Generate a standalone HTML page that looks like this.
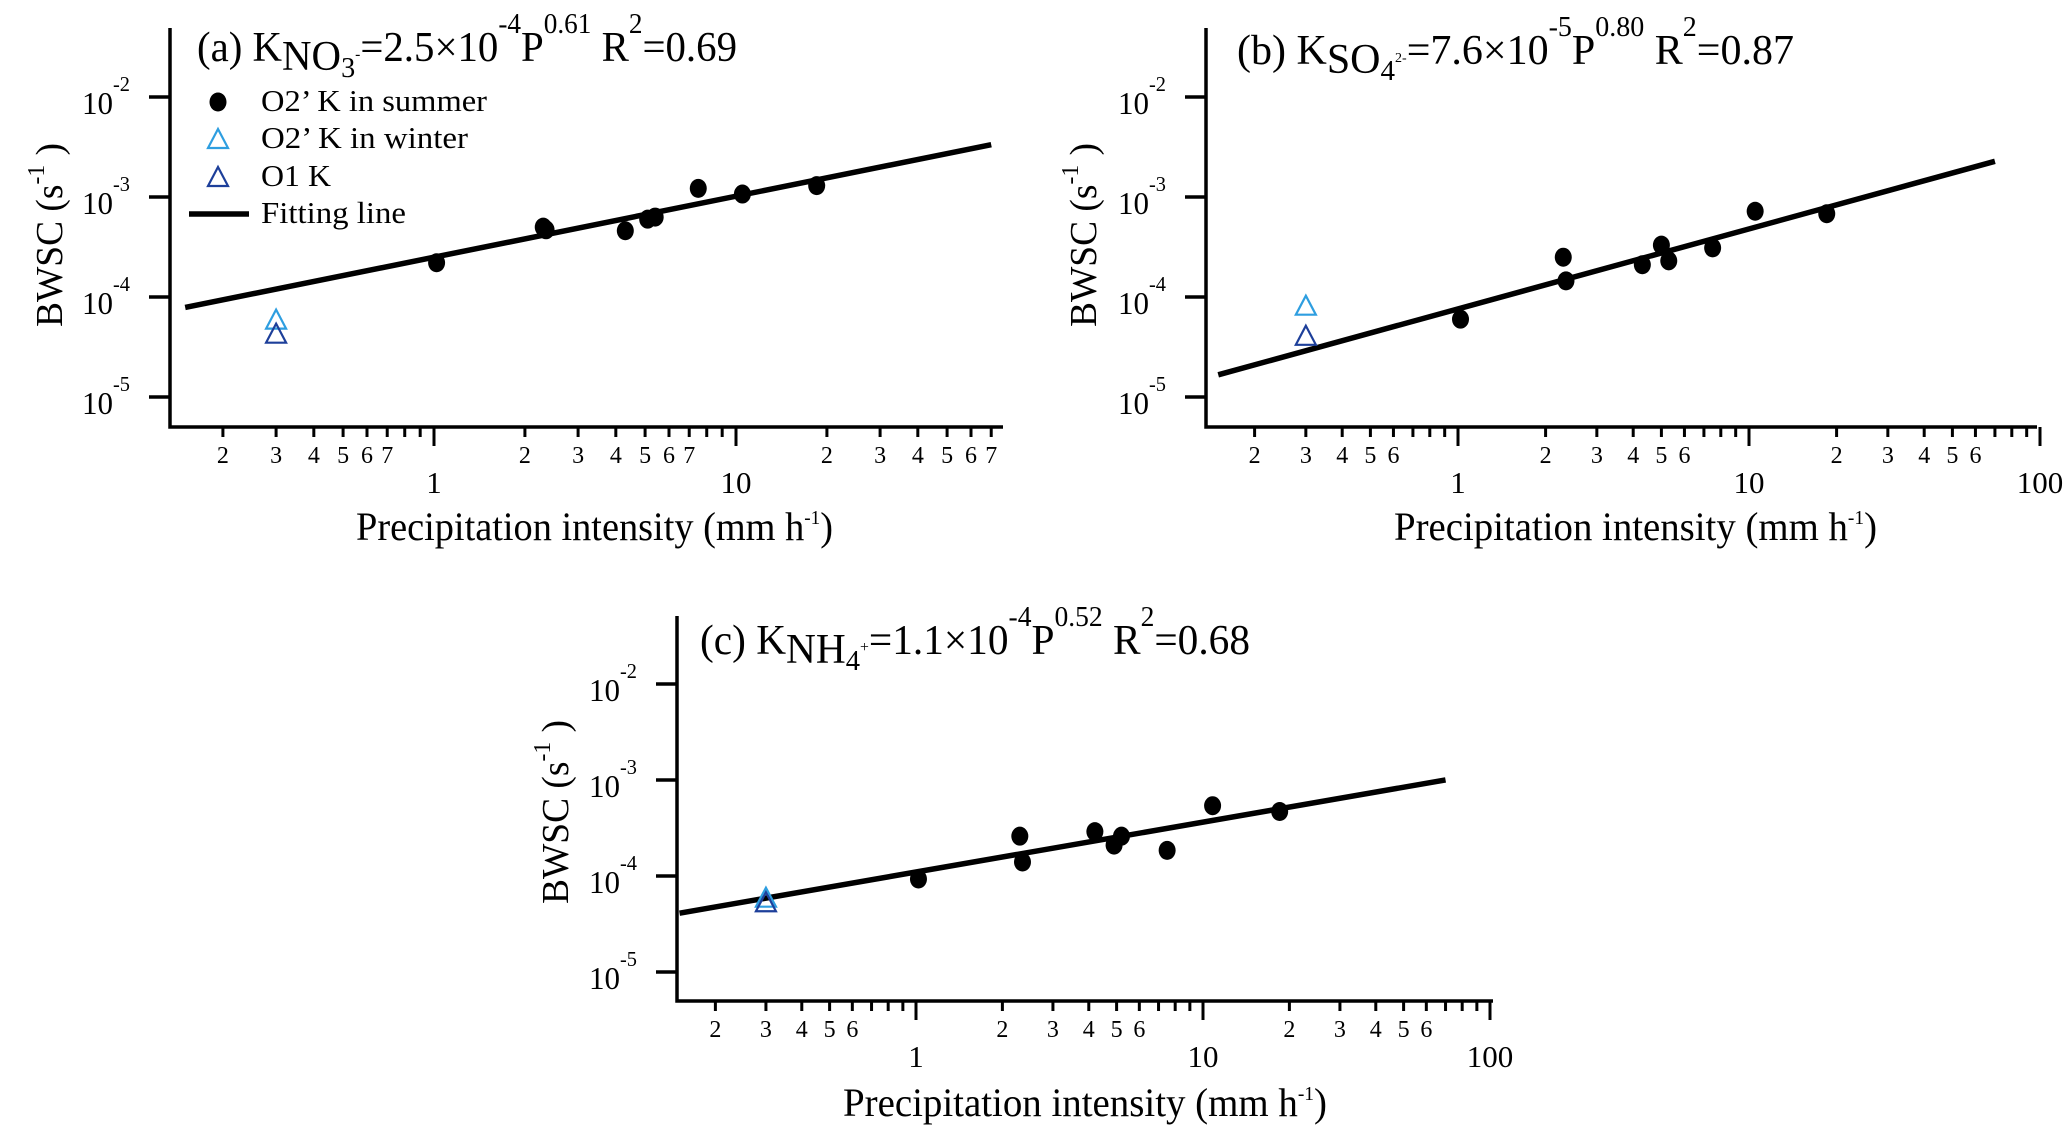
<!DOCTYPE html>
<html><head><meta charset="utf-8"><style>
html,body{margin:0;padding:0;background:#fff;}
svg{display:block;font-family:"Liberation Serif",serif;}
</style></head><body>
<svg id="fig" width="2067" height="1137" viewBox="0 0 2067 1137" xmlns="http://www.w3.org/2000/svg"></svg>
<script>
// ---- data ----
const aSummerP = [1.02, 2.3, 2.35, 4.3, 5.1, 5.4, 7.5, 10.5, 18.5];
const aSummerK = [2.2e-4, 5.0e-4, 4.7e-4, 4.6e-4, 6.0e-4, 6.3e-4, 1.22e-3, 1.07e-3, 1.3e-3];
const aWinterP = [0.3], aWinterK = [5.8e-5];
const aO1P = [0.3], aO1K = [4.2e-5];
const aFit = [2.5e-4, 0.61];

const bSummerP = [1.02, 2.3, 2.35, 4.3, 5.0, 5.3, 7.5, 10.5, 18.5];
const bSummerK = [6.0e-5, 2.5e-4, 1.45e-4, 2.1e-4, 3.3e-4, 2.3e-4, 3.1e-4, 7.2e-4, 6.8e-4];
const bWinterP = [0.3], bWinterK = [8.0e-5];
const bO1P = [0.3], bO1K = [4.0e-5];
const bFit = [7.6e-5, 0.80];

const cSummerP = [1.02, 2.3, 2.35, 4.2, 4.9, 5.2, 7.5, 10.8, 18.5];
const cSummerK = [9.3e-5, 2.6e-4, 1.4e-4, 2.9e-4, 2.1e-4, 2.6e-4, 1.85e-4, 5.4e-4, 4.7e-4];
const cWinterP = [0.3], cWinterK = [5.8e-5];
const cO1P = [0.3], cO1K = [5.2e-5];
const cFit = [1.1e-4, 0.52];

const fitRange = [0.15, 70];
const yTickExps = [-2, -3, -4, -5];
const minorLabelsA = ['2','3','4','5','6','7'];
const minorLabelsBC = ['2','3','4','5','6'];

const NS = 'http://www.w3.org/2000/svg';
const svg = document.getElementById('fig');
function mk(tag, attrs, parent){ const e=document.createElementNS(NS,tag); for(const k in attrs) e.setAttribute(k,attrs[k]); (parent||svg).appendChild(e); return e; }

function panel(cfg){
  const g = mk('g',{});
  
  
  const X = p => cfg.x1 + (cfg.x10-cfg.x1)*Math.log10(p);
  const Y = k => cfg.y3 + (cfg.y4-cfg.y3)*(-3-Math.log10(k));
  const ax = mk('path',{d:`M${cfg.ax} ${cfg.top} L${cfg.ax} ${cfg.bot} L${cfg.axR} ${cfg.bot}`,fill:'none',stroke:'#000','stroke-width':3.5},g);
  
  
  yTickExps.forEach(e=>{
    const y = Y(Math.pow(10,e));
    mk('line',{x1:cfg.ax-21,x2:cfg.ax,y1:y,y2:y,stroke:'#000','stroke-width':3.5},g);
    const t = mk('text',{x:cfg.ax-88,y:y+17,'font-size':32,textLength:48,lengthAdjust:'spacingAndGlyphs'},g);
    
    
    t.innerHTML = `10<tspan dy="-23" font-size="21">${e}</tspan>`;
  });
  for(let d=-1; d<=1; d++){
    for(let m=1; m<=9; m++){
      const p = m*Math.pow(10,d);
      const x = X(p);
      if(x < cfg.ax+5 || x > cfg.axR+1) continue;
      const major = (m===1);
      mk('line',{x1:x,x2:x,y1:cfg.bot,y2:cfg.bot+(major?19:10),stroke:'#000','stroke-width':3},g);
      const labs = cfg.minor;
      if(!major && m-2 < labs.length){
        const t = mk('text',{x:x,y:cfg.bot+36,'font-size':24,'text-anchor':'middle'},g);
        
        
        t.textContent = labs[m-2];
      }
      if(major && d>=0){
        const t = mk('text',{x:x,y:cfg.bot+66,'font-size':31,'text-anchor':'middle'},g);
        
        
        t.textContent = p;
      }
    }
  }
  if(cfg.show100){
    const x = X(100);
    mk('line',{x1:x,x2:x,y1:cfg.bot,y2:cfg.bot+19,stroke:'#000','stroke-width':3},g);
    const t = mk('text',{x:x,y:cfg.bot+66,'font-size':31,'text-anchor':'middle'},g);
    
    
    t.textContent = '100';
  }
  const fl = mk('line',{x1:X(fitRange[0]),y1:Y(cfg.fit[0]*Math.pow(fitRange[0],cfg.fit[1])),x2:X(fitRange[1]),y2:Y(cfg.fit[0]*Math.pow(fitRange[1],cfg.fit[1])),stroke:'#000','stroke-width':5.5},g);
  
  
  cfg.sP.forEach((p,i)=>{
    const c = mk('ellipse',{cx:X(p),cy:Y(cfg.sK[i]),rx:8.5,ry:9.5,fill:'#000'},g);
    
    
  });
  const tri=(p,k,col,name)=>{
    const x=X(p), y=Y(k);
    const t = mk('path',{d:`M${x} ${y-11} L${x+10} ${y+8} L${x-10} ${y+8} Z`,fill:'none',stroke:col,'stroke-width':2.2},g);
    
    
  };
  cfg.wP.forEach((p,i)=>tri(p,cfg.wK[i],'#2e9ee0','winter-point'));
  cfg.oP.forEach((p,i)=>tri(p,cfg.oK[i],'#1d3f9a','o1-point'));
  const tt = mk('text',{x:cfg.tx,y:cfg.ty,'font-size':42,textLength:cfg.tw,lengthAdjust:'spacingAndGlyphs'},g);
  
  
  tt.innerHTML = cfg.title;
  const xt = mk('text',{x:cfg.xtx,y:cfg.xty,'font-size':40,textLength:cfg.xtw,lengthAdjust:'spacingAndGlyphs'},g);
  
  
  xt.innerHTML = 'Precipitation intensity (mm h<tspan dy="-16" font-size="20">-1</tspan><tspan dy="16">)</tspan>';
  const yt = mk('text',{x:0,y:0,'font-size':38,textLength:184,lengthAdjust:'spacingAndGlyphs',transform:`translate(${cfg.ytx},${cfg.ytc+92}) rotate(-90)`},g);
  
  
  yt.innerHTML = 'BWSC   (s<tspan dy="-18" font-size="24">-1</tspan><tspan dy="18"> )</tspan>';
  return g;
}

panel({id:'a', ax:170, axR:1003, top:28, bot:427, x1:434, x10:736, y3:197, y4:297,
  minor:minorLabelsA, show100:false, fit:aFit,
  sP:aSummerP, sK:aSummerK, wP:aWinterP, wK:aWinterK, oP:aO1P, oK:aO1K,
  tx:197, ty:61, tw:540,
  title:'(a)  K<tspan dy="9">NO</tspan><tspan dy="7" font-size="29">3</tspan><tspan dy="-18" font-size="16">-</tspan><tspan dy="2">=2.5×10</tspan><tspan dy="-28" font-size="28">-4</tspan><tspan dy="28">P</tspan><tspan dy="-28" font-size="28">0.61</tspan><tspan dy="28">   R</tspan><tspan dy="-28" font-size="28">2</tspan><tspan dy="28">=0.69</tspan>',
  xtx:356, xty:540, xtw:477, ytx:62, ytc:235});

panel({id:'b', ax:1206, axR:2037, top:28, bot:427, x1:1458, x10:1749, y3:197, y4:297,
  minor:minorLabelsBC, show100:true, fit:bFit,
  sP:bSummerP, sK:bSummerK, wP:bWinterP, wK:bWinterK, oP:bO1P, oK:bO1K,
  tx:1237, ty:64, tw:557,
  title:'(b)  K<tspan dy="9">SO</tspan><tspan dy="7" font-size="29">4</tspan><tspan dy="-18" font-size="14">2-</tspan><tspan dy="2">=7.6×10</tspan><tspan dy="-28" font-size="28">-5</tspan><tspan dy="28">P</tspan><tspan dy="-28" font-size="28">0.80</tspan><tspan dy="28">   R</tspan><tspan dy="-28" font-size="28">2</tspan><tspan dy="28">=0.87</tspan>',
  xtx:1394, xty:540, xtw:483, ytx:1096, ytc:235});

panel({id:'c', ax:677, axR:1493, top:616, bot:1001, x1:916, x10:1203, y3:780, y4:876,
  minor:minorLabelsBC, show100:true, fit:cFit,
  sP:cSummerP, sK:cSummerK, wP:cWinterP, wK:cWinterK, oP:cO1P, oK:cO1K,
  tx:700, ty:654, tw:550,
  title:'(c)  K<tspan dy="9">NH</tspan><tspan dy="7" font-size="29">4</tspan><tspan dy="-18" font-size="16">+</tspan><tspan dy="2">=1.1×10</tspan><tspan dy="-28" font-size="28">-4</tspan><tspan dy="28">P</tspan><tspan dy="-28" font-size="28">0.52</tspan><tspan dy="28">   R</tspan><tspan dy="-28" font-size="28">2</tspan><tspan dy="28">=0.68</tspan>',
  xtx:843, xty:1116, xtw:484, ytx:568, ytc:812});

const lg = mk('g',{});


const legendLabels = ["O2’ K in summer","O2’ K in winter","O1 K","Fitting line"];
const legendWidths = [226, 207, 70, 145];
const ly = [111,148,186,223];
mk('ellipse',{cx:218,cy:102,rx:8.5,ry:9.5,fill:'#000'},lg);
mk('path',{d:'M218 129 L228 148 L208 148 Z',fill:'none',stroke:'#2e9ee0','stroke-width':2.2},lg);
mk('path',{d:'M218 167 L228 186 L208 186 Z',fill:'none',stroke:'#1d3f9a','stroke-width':2.2},lg);
mk('line',{x1:189,x2:249,y1:214,y2:214,stroke:'#000','stroke-width':5.5},lg);
legendLabels.forEach((s,i)=>{
  const t = mk('text',{x:261,y:ly[i],'font-size':31,textLength:legendWidths[i],lengthAdjust:'spacingAndGlyphs'},lg);
  
  
  t.textContent = s;
});
</script>
</body></html>
